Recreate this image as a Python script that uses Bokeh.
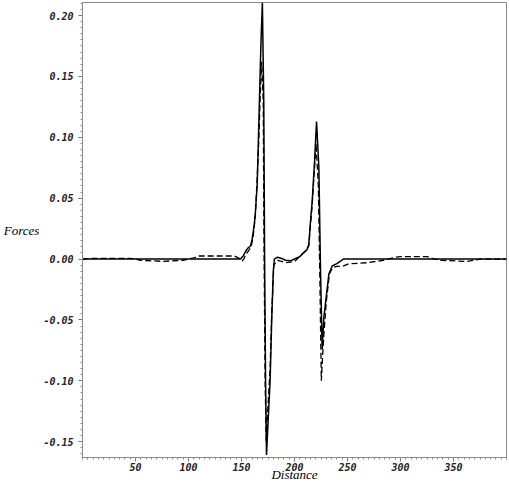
from bokeh.plotting import figure
from bokeh.models import FixedTicker, NumeralTickFormatter, Range1d
from bokeh.embed import file_html
from bokeh.resources import INLINE

# ---- data ----
solid_x = [0, 50, 100, 140, 149, 152, 154, 156, 158.5, 160, 162, 163, 164.8, 166, 167.5, 168.6, 169.7,
           171, 171.8, 172.7, 173.6, 175, 177, 178.5, 180, 181, 184, 188, 191.5, 196, 200, 205, 208,
           210.4, 212, 213.5, 215, 216.7, 218.9, 220.8, 223, 224.5, 226.1, 227.7, 230.2, 232.4, 235.5,
           240, 243, 246, 260, 300, 400]
solid_y = [0, 0, 0, 0, 0, 0.003, 0.0066, 0.009, 0.0107, 0.016, 0.028, 0.037, 0.061, 0.10, 0.15, 0.184, 0.2105,
           0.13, 0.0, -0.10, -0.161, -0.135, -0.10, -0.05, -0.01, 0.0, 0.0015, 0.0005, -0.001, -0.0015, 0.0, 0.002, 0.0045,
           0.0065, 0.008, 0.012, 0.03, 0.0475, 0.08, 0.113, 0.075, -0.007, -0.074, -0.048, -0.029, -0.0125, -0.0057,
           -0.0038, -0.002, 0, 0, 0, 0]

dashed_x = [0, 8, 20, 45, 55, 75, 95, 105, 110, 143, 147, 150.6, 152.5, 154, 156.6, 159, 161, 163, 165,
            166.3, 167.5, 169, 170.5, 171.2, 172.3, 173.3, 175, 177, 178.5, 180.5, 184, 188, 192, 200, 205,
            208, 210.4, 213.5, 216.7, 218.9, 220.3, 222.5, 224, 225.3, 226.5, 227.7, 230, 233, 236, 240,
            245, 251, 269, 284, 295, 300, 325, 332, 338, 363, 375, 400]
dashed_y = [0, 0.0006, 0.0006, 0.0006, -0.001, -0.0019, -0.001, 0.001, 0.0025, 0.0025, 0.001, -0.0016, 0.0005,
            0.004, 0.0066, 0.010, 0.018, 0.035, 0.07, 0.097, 0.13, 0.162, 0.13, 0.015, -0.10, -0.15, -0.12,
            -0.09, -0.045, -0.005, -0.001, -0.002, -0.003, -0.002, 0.002, 0.005, 0.0065, 0.011, 0.045, 0.075,
            0.095, 0.06, -0.02, -0.100, -0.08, -0.062, -0.035, -0.012, -0.007, -0.006, -0.006, -0.004, -0.003,
            -0.001, 0.0015, 0.002, 0.002, 0.0, -0.001, -0.002, 0.0, 0.0]

x_ticks = [50, 100, 150, 200, 250, 300, 350]
y_ticks = [-0.15, -0.10, -0.05, 0.0, 0.05, 0.10, 0.15, 0.20]
x_minor = [i * 5 for i in range(0, 81)]
y_minor = [round(-0.16 + i * 0.005, 4) for i in range(0, 76)]

x_label = "Distance"
y_label = "Forces"

p = figure(width=509, height=484, output_backend="svg", toolbar_location=None,
           x_range=Range1d(0, 400), y_range=Range1d(-0.163, 0.2107),
           min_border_left=81, min_border_right=3, min_border_top=2, min_border_bottom=27,
           background_fill_color="white", border_fill_color="white")
p.grid.visible = False
p.outline_line_color = "#8a8a8a"
p.outline_line_width = 1

p.line(dashed_x, dashed_y, line_color="black", line_width=1.3, line_dash="6 3")
p.line(solid_x, solid_y, line_color="black", line_width=1.5)

for ax in (p.xaxis[0], p.yaxis[0]):
    ax.axis_line_color = "#8a8a8a"
    ax.major_tick_line_color = "#707070"
    ax.minor_tick_line_color = "#8a8a8a"
    ax.major_tick_in = 0
    ax.major_tick_out = 4
    ax.minor_tick_in = 0
    ax.minor_tick_out = 2
    ax.major_label_text_font = "DejaVu Sans Mono"
    ax.major_label_text_font_style = "bold italic"
    ax.major_label_text_font_size = "10px"
    ax.major_label_text_color = "#222222"
    ax.axis_label_text_font = "Liberation Serif"
    ax.axis_label_text_font_style = "italic"
    ax.axis_label_text_font_size = "13px"
    ax.axis_label_text_color = "black"

p.xaxis[0].ticker = FixedTicker(ticks=x_ticks, minor_ticks=x_minor)
p.yaxis[0].ticker = FixedTicker(ticks=y_ticks, minor_ticks=y_minor)
p.yaxis[0].formatter = NumeralTickFormatter(format="0.00")
p.xaxis[0].formatter = NumeralTickFormatter(format="0")

p.xaxis[0].axis_label = x_label
p.xaxis[0].major_label_standoff = 1
p.xaxis[0].axis_label_standoff = -7
p.yaxis[0].axis_label = y_label
p.yaxis[0].major_label_standoff = 5
p.yaxis[0].axis_label_standoff = 1
p.yaxis[0].axis_label_orientation = "horizontal"

open("out.html", "w").write(file_html(p, INLINE))
